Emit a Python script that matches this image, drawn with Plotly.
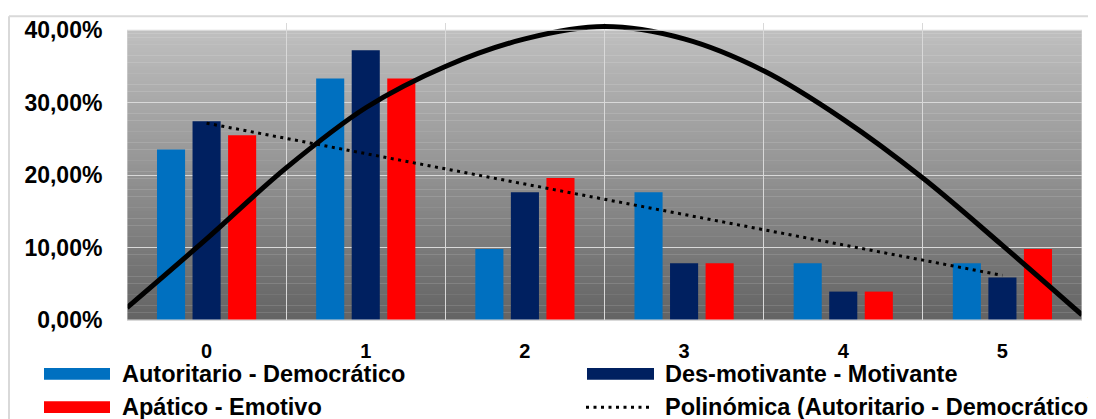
import numpy as np
import plotly.graph_objects as go

# ---- data ----
categories = [0, 1, 2, 3, 4, 5]
tick_labels = ["0", "1", "2", "3", "4", "5"]
series_names = ["Autoritario - Democrático", "Des-motivante - Motivante", "Apático - Emotivo"]
autoritario = [0.2353, 0.3333, 0.0980, 0.1765, 0.0784, 0.0784]
desmotivante = [0.2745, 0.3725, 0.1765, 0.0784, 0.0392, 0.0588]
apatico = [0.2549, 0.3333, 0.1961, 0.0784, 0.0392, 0.0980]
trend_name = "Polinómica (Autoritario - Democrático)"
# black polynomial trend curve
curve_x = [-0.5, 0.0, 0.5, 1.0, 1.5, 2.0, 2.5, 3.0, 3.5, 4.0, 4.5, 5.0, 5.5]
curve_y = [0.017, 0.112, 0.210, 0.293, 0.350, 0.388, 0.405, 0.388, 0.344, 0.277, 0.196, 0.103, 0.007]
y_ticks = [0, 0.1, 0.2, 0.3, 0.4]
y_tick_labels = ["0,00%", "10,00%", "20,00%", "30,00%", "40,00%"]

colors = ["#0070C0", "#002060", "#FF0000"]

# ---- layout geometry (page pixels; the page body adds an 8px offset) ----
OFF = 8
W, H = 1096 - OFF, 419 - OFF
L, R = 127 - OFF, 1082 - OFF
T, B = 17 - OFF, 320 - OFF


def px(xp):
    return (xp - OFF - L) / (R - L)


def py(yp):
    return (B - (yp - OFF)) / (B - T)


fig = go.Figure()
for name, vals, col in zip(series_names, [autoritario, desmotivante, apatico], colors):
    fig.add_trace(go.Bar(x=categories, y=vals, name=name, marker=dict(color=col, line=dict(width=0)),
                         showlegend=False))

# linear ("polinómica") trend of the first series
coef = np.polyfit(categories, autoritario, 1)
trend = np.polyval(coef, categories)
fig.add_trace(go.Scatter(x=categories, y=trend, mode="lines", name=trend_name,
                         line=dict(color="black", width=3, dash="3px,4.5px"), showlegend=False))

fig.add_trace(go.Scatter(x=curve_x, y=curve_y, mode="lines", line=dict(color="black", width=5, shape="spline"),
                         showlegend=False))

shapes = []
# gradient background stripes from 0 to 0.4
n = 80
top_c = np.array([192, 192, 192])
bot_c = np.array([100, 100, 100])
for i in range(n):
    y0 = 0.4 * i / n
    y1 = 0.4 * (i + 1) / n
    t = (i + 0.5) / n
    c = (bot_c + (top_c - bot_c) * t).astype(int)
    shapes.append(dict(type="rect", xref="x", yref="y", x0=-0.5, x1=5.5, y0=y0, y1=y1 + 0.0005,
                       fillcolor=f"rgb({c[0]},{c[1]},{c[2]})", line=dict(width=0), layer="below"))
# plot border
shapes.append(dict(type="rect", xref="x", yref="y", x0=-0.5, x1=5.5, y0=0, y1=0.4,
                   line=dict(color="#D9D9D9", width=1), fillcolor="rgba(0,0,0,0)", layer="above"))
# chart area border (top and left)
shapes.append(dict(type="line", xref="paper", yref="paper", x0=px(9), x1=px(1110), y0=py(10), y1=py(10),
                   line=dict(color="#D9D9D9", width=2)))
shapes.append(dict(type="line", xref="paper", yref="paper", x0=px(9), x1=px(9), y0=py(10), y1=py(430),
                   line=dict(color="#D9D9D9", width=2)))

# custom legend
leg_font = dict(family="Liberation Sans, Arial", size=23.5, color="black")
legend_items = [
    (series_names[0], colors[0], 44, 110, 375, 120),
    (series_names[1], colors[1], 587, 654, 375, 663),
    (series_names[2], colors[2], 44, 110, 409, 120),
]
annotations = []
for name, col, xa, xb, yc, xt in legend_items:
    shapes.append(dict(type="rect", xref="paper", yref="paper", x0=px(xa), x1=px(xb),
                       y0=py(yc - 6), y1=py(yc + 6), fillcolor=col, line=dict(width=0)))
    annotations.append(dict(xref="paper", yref="paper", x=px(xt), y=py(yc), text=f"<b>{name}</b>",
                            showarrow=False, xanchor="left", yanchor="middle", font=leg_font))
shapes.append(dict(type="line", xref="paper", yref="paper", x0=px(586), x1=px(650), y0=py(409), y1=py(409),
                   line=dict(color="black", width=3, dash="3px,4.5px")))
annotations.append(dict(xref="paper", yref="paper", x=px(663), y=py(409), text=f"<b>{trend_name}</b>",
                        showarrow=False, xanchor="left", yanchor="middle", font=leg_font))

fig.update_layout(
    width=W, height=H,
    margin=dict(l=L, r=W - R, t=T, b=H - B, pad=0),
    paper_bgcolor="white", plot_bgcolor="white",
    barmode="group", bargap=0.33, bargroupgap=0.21,
    shapes=shapes, annotations=annotations,
    showlegend=False,
    font=dict(family="Liberation Sans, Arial", color="black"),
)
fig.update_xaxes(
    range=[-0.5, 5.5], tickmode="array", tickvals=categories, ticktext=[f"<b>{t}</b>" for t in tick_labels],
    showgrid=False, zeroline=False, showline=False,
    ticks="outside", ticklen=13, tickcolor="rgba(0,0,0,0)",
    tickfont=dict(size=20, family="Liberation Sans, Arial", color="black"),
    minor=dict(tickmode="array", tickvals=[-0.5, 0.5, 1.5, 2.5, 3.5, 4.5, 5.5], showgrid=True,
               gridcolor="#D9D9D9", gridwidth=1, ticks=""),
)
fig.update_yaxes(
    range=[0, 0.41], tickmode="array", tickvals=y_ticks, ticktext=[f"<b>{t}</b>" for t in y_tick_labels],
    showgrid=True, gridcolor="#D9D9D9", gridwidth=1, zeroline=True, zerolinecolor="#D9D9D9", zerolinewidth=1,
    showline=False, ticks="outside", ticklen=19, tickcolor="rgba(0,0,0,0)",
    tickfont=dict(size=23, family="Liberation Sans, Arial", color="black"),
)

fig.write_html("out.html")
